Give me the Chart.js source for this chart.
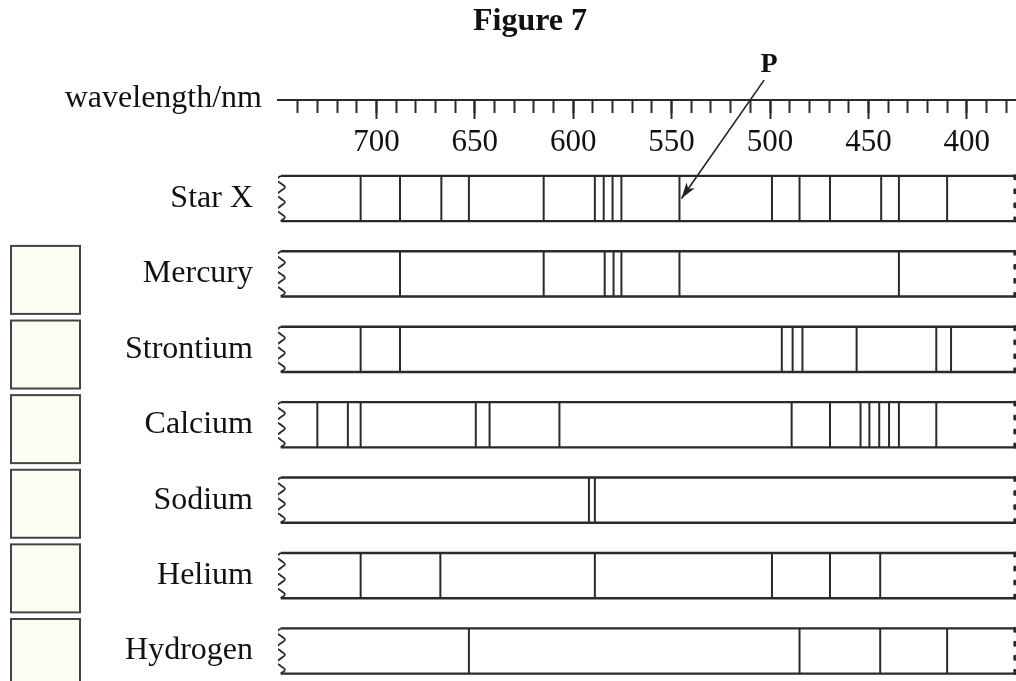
<!DOCTYPE html>
<html>
<head>
<meta charset="utf-8">
<title>Figure 7</title>
<script src="https://cdn.jsdelivr.net/npm/chart.js@4.4.0/dist/chart.umd.min.js"></script>
<style>
  html, body { margin: 0; padding: 0; background: #fff; }
  #wrap { width: 1016px; height: 681px; }
</style>
</head>
<body>
<div id="wrap"><canvas id="spectrachart"></canvas></div>
<script>
  // Setup Block
  // spectral lines in nm
  const rows = ['Star X', 'Mercury', 'Strontium', 'Calcium', 'Sodium', 'Helium', 'Hydrogen'];
  const lines_starx = [708, 688, 667, 653, 615, 589, 584.5, 580, 575.5, 546, 499, 485, 469.5, 443.5, 434.5, 410];
  const lines_mercury = [688, 615, 584, 579.5, 575.5, 546, 434.5];
  const lines_strontium = [708, 688, 494, 488.5, 483.5, 456, 415.5, 408];
  const lines_calcium = [730, 714.5, 708, 649.5, 642.5, 607, 489, 469.5, 454, 449.5, 444.5, 439.5, 434.5, 415.5];
  const lines_sodium = [592, 589];
  const lines_helium = [708, 667.5, 589, 499, 469.5, 444];
  const lines_hydrogen = [653, 485, 444, 410];
  const spectra = [lines_starx, lines_mercury, lines_strontium, lines_calcium, lines_sodium, lines_helium, lines_hydrogen];

  const minorTicks = [740, 730, 720, 710, 700, 690, 680, 670, 660, 650, 640, 630, 620, 610, 600, 590, 580, 570, 560,
                      550, 540, 530, 520, 510, 500, 490, 480, 470, 460, 450, 440, 430, 420, 410, 400, 390, 380];
  const majorTicks = [700, 650, 600, 550, 500, 450, 400];

  // arrow to line P (wavelength, row units)
  const arrow_p = [{x: 503, y: -1.57}, {x: 545, y: 0}];

  const axisLevel = -1.306;   // where the wavelength scale sits, in row units
  const half = 0.3;           // half height of a strip
  const ink = '#2a2a2a';

  function stripLines(row, list) {
    const pts = [];
    list.forEach(w => {
      pts.push({x: w, y: row - half}, {x: w, y: row + half}, {x: w, y: null});
    });
    return pts;
  }

  function stripFrame(row) {
    return [
      {x: 748.6, y: row - half}, {x: 375, y: row - half}, {x: 375, y: null},
      {x: 748.6, y: row + half}, {x: 375, y: row + half}
    ];
  }

  // wavy torn edge on the left of each strip
  const waveSteps = [0, 1, 0, -1];
  function stripWave(row) {
    const pts = [];
    for (let k = 0; k <= 12; k++) {
      pts.push({x: 748.6 + 2.1 * waveSteps[k % 4], y: row - half + k * (2 * half / 12)});
    }
    return pts;
  }

  const datasets = [];
  rows.forEach((name, i) => {
    datasets.push({label: name + ' frame', data: stripFrame(i), borderColor: ink, borderWidth: 2.4});
    datasets.push({label: name + ' edge', data: stripWave(i), borderColor: ink, borderWidth: 1.8, tension: 0.45});
    datasets.push({label: name + ' cut', data: [{x: 375.6, y: i - half}, {x: 375.6, y: i + half}],
      borderColor: ink, borderWidth: 3, borderDash: [3, 11], borderCapStyle: 'round'});
  });
  spectra.forEach((list, i) => {
    datasets.push({label: rows[i], data: stripLines(i, list), borderColor: ink, borderWidth: 2});
  });
  datasets.push({label: 'P', data: arrow_p, borderColor: '#222', borderWidth: 1.6});
  const arrowIndex = datasets.length - 1;

  const data_spectra = {datasets: datasets};

  // boxes, arrow head, P and the scale name
  const extras = {
    id: 'extras',
    beforeDatasetsDraw(chart) {
      const {ctx, scales: {y}} = chart;
      ctx.save();
      ctx.fillStyle = '#fcfcf2';
      ctx.strokeStyle = '#444';
      ctx.lineWidth = 2;
      for (let i = 1; i < rows.length; i++) {
        const top = y.getPixelForValue(i) - 28 - (i - 1) * 0.8;
        ctx.fillRect(11, top, 69, 68);
        ctx.strokeRect(11, top, 69, 68);
      }
      ctx.restore();
    },
    afterDatasetsDraw(chart) {
      const {ctx, scales: {y}, chartArea} = chart;
      const pts = chart.getDatasetMeta(arrowIndex).data;
      const p0 = pts[0], p1 = pts[1];
      const a = Math.atan2(p1.y - p0.y, p1.x - p0.x);
      ctx.save();
      ctx.fillStyle = '#222';
      ctx.beginPath();
      ctx.moveTo(p1.x, p1.y);
      ctx.lineTo(p1.x - 16 * Math.cos(a) + 5 * Math.sin(a), p1.y - 16 * Math.sin(a) - 5 * Math.cos(a));
      ctx.lineTo(p1.x - 12 * Math.cos(a), p1.y - 12 * Math.sin(a));
      ctx.lineTo(p1.x - 16 * Math.cos(a) - 5 * Math.sin(a), p1.y - 16 * Math.sin(a) + 5 * Math.cos(a));
      ctx.closePath();
      ctx.fill();

      ctx.fillStyle = '#111';
      ctx.textBaseline = 'alphabetic';
      ctx.textAlign = 'center';
      ctx.font = 'bold 28px "Liberation Serif", "Times New Roman", serif';
      ctx.fillText('P', p0.x + 5, p0.y - 8);

      ctx.textAlign = 'right';
      ctx.font = '32px "Liberation Serif", "Times New Roman", serif';
      ctx.fillText('wavelength/nm', chartArea.left - 16, y.getPixelForValue(axisLevel) + 7);
      ctx.restore();
    }
  };

  // Config Block
  Chart.defaults.font.family = '"Liberation Serif", "Times New Roman", serif';
  Chart.defaults.color = '#111';

  const config_spectra = {
    type: 'line',
    data: data_spectra,
    plugins: [extras],
    options: {
      responsive: true,
      maintainAspectRatio: false,
      animation: false,
      events: [],
      layout: {padding: {left: 44, right: 0, top: 0, bottom: 0}},
      elements: {point: {radius: 0}, line: {fill: false}},
      plugins: {
        legend: {display: false},
        tooltip: {enabled: false},
        title: {
          display: true,
          text: 'Figure 7',
          font: {size: 32, weight: 'bold'},
          color: '#111',
          padding: {top: 3, bottom: 0}
        }
      },
      scales: {
        x: {
          type: 'linear', reverse: true, min: 375, max: 750,
          position: {y: axisLevel},
          afterBuildTicks: s => { s.ticks = minorTicks.map(v => ({value: v})); },
          grid: {drawOnChartArea: false, tickLength: 12, tickWidth: 2, tickColor: ink},
          border: {color: ink, width: 2},
          ticks: {display: false}
        },
        x2: {
          type: 'linear', axis: 'x', reverse: true, min: 375, max: 750,
          position: {y: axisLevel},
          afterBuildTicks: s => { s.ticks = majorTicks.map(v => ({value: v})); },
          grid: {drawOnChartArea: false, tickLength: 18, tickWidth: 2, tickColor: ink},
          border: {color: ink, width: 2},
          ticks: {font: {size: 31}, color: '#111', padding: 6, maxRotation: 0, autoSkip: false}
        },
        y: {
          type: 'linear', reverse: true, min: -2.083, max: 6.398,
          afterBuildTicks: s => { s.ticks = rows.map((r, i) => ({value: i})); },
          afterFit: s => { s.width = 234; s.paddingTop = 0; s.paddingBottom = 0; },
          grid: {display: false},
          border: {display: false},
          ticks: {callback: v => rows[v], font: {size: 32}, color: '#111', padding: 17, crossAlign: 'near'}
        }
      }
    }
  };

  // Render Block
  const spectrachart = new Chart(
    document.getElementById('spectrachart'),
    config_spectra
  );
</script>
</body>
</html>
